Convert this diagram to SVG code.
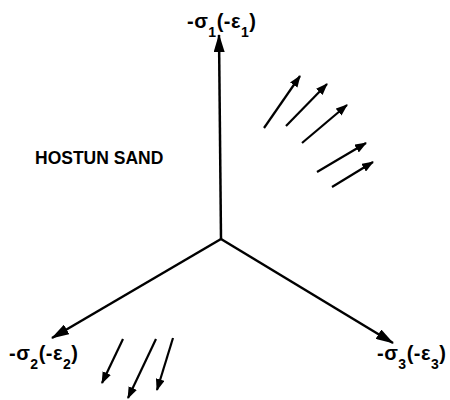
<svg xmlns="http://www.w3.org/2000/svg" width="450" height="400" viewBox="0 0 450 400">
<style>
.ax{stroke:#000;stroke-width:2.5;fill:none}
.sm{stroke:#000;stroke-width:2.2;fill:none}
.lbl{font-family:"Liberation Sans",Arial,sans-serif;font-weight:bold;font-size:20px;fill:#000;letter-spacing:0.5px}
.sub{font-size:14px}
.title{font-family:"Liberation Sans",Arial,sans-serif;font-weight:bold;font-size:17.5px;fill:#000}
</style>
<defs>
<marker id="big" viewBox="0 0 18 11" refX="17" refY="5.5" markerWidth="18" markerHeight="11" markerUnits="userSpaceOnUse" orient="auto">
<path d="M0,0 L18,5.5 L0,11 Z" fill="#000"/>
</marker>
<marker id="small" viewBox="0 0 12 9" refX="11" refY="4.5" markerWidth="12" markerHeight="9" markerUnits="userSpaceOnUse" orient="auto">
<path d="M0,0 L12,4.5 L0,9 Z" fill="#000"/>
</marker>
</defs>
<rect width="450" height="400" fill="#fff"/>
<g id="connectors">
<line class="ax" x1="221" y1="239" x2="219" y2="35" marker-end="url(#big)"/>
<line class="ax" x1="221" y1="239" x2="52" y2="338" marker-end="url(#big)"/>
<line class="ax" x1="221" y1="239" x2="393" y2="343" marker-end="url(#big)"/>
<line class="sm" x1="264" y1="128" x2="300" y2="76" marker-end="url(#small)"/>
<line class="sm" x1="286" y1="126" x2="327" y2="84" marker-end="url(#small)"/>
<line class="sm" x1="302" y1="143" x2="347" y2="105" marker-end="url(#small)"/>
<line class="sm" x1="317" y1="172" x2="366" y2="143" marker-end="url(#small)"/>
<line class="sm" x1="332" y1="187" x2="373" y2="162" marker-end="url(#small)"/>
<line class="sm" x1="123" y1="339" x2="102" y2="383" marker-end="url(#small)"/>
<line class="sm" x1="156" y1="339" x2="128" y2="398" marker-end="url(#small)"/>
<line class="sm" x1="173" y1="338" x2="157" y2="390" marker-end="url(#small)"/>
</g>
<g id="label-s1">
<text class="lbl" x="187" y="28">-σ<tspan class="sub" dy="9">1</tspan><tspan dy="-9">(-ε</tspan><tspan class="sub" dy="9">1</tspan><tspan dy="-9">)</tspan></text>
</g>
<g id="label-s2">
<text class="lbl" x="9" y="360">-σ<tspan class="sub" dy="9">2</tspan><tspan dy="-9">(-ε</tspan><tspan class="sub" dy="9">2</tspan><tspan dy="-9">)</tspan></text>
</g>
<g id="label-s3">
<text class="lbl" x="377" y="360">-σ<tspan class="sub" dy="9">3</tspan><tspan dy="-9">(-ε</tspan><tspan class="sub" dy="9">3</tspan><tspan dy="-9">)</tspan></text>
</g>
<g id="title">
<text class="title" x="35" y="164">HOSTUN SAND</text>
</g>
</svg>
